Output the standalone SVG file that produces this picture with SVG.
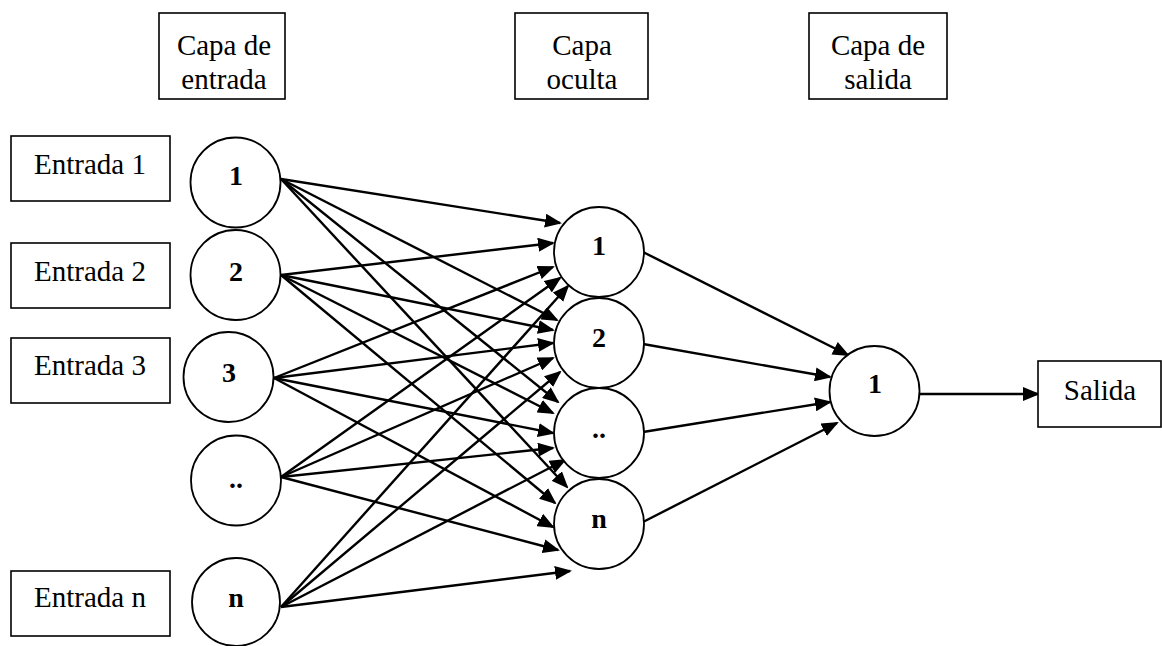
<svg xmlns="http://www.w3.org/2000/svg" width="1162" height="646" viewBox="0 0 1162 646">
  <defs>
    <marker id="arrow" markerUnits="userSpaceOnUse" markerWidth="17" markerHeight="14" refX="15" refY="7" orient="auto">
      <path d="M0,0 L17,7 L0,14 Z" fill="#000"/>
    </marker>
    <style>
      .box { fill: #fff; stroke: #000; stroke-width: 1.6; }
      .node { fill: #fff; stroke: #000; stroke-width: 1.8; }
      .lbl { font-family: "Liberation Serif", "Times New Roman", serif; font-size: 29px; fill: #000; text-anchor: middle; }
      .num { font-family: "Liberation Serif", "Times New Roman", serif; font-size: 28px; font-weight: bold; fill: #000; text-anchor: middle; }
      .edge { stroke: #000; stroke-width: 2.4; fill: none; marker-end: url(#arrow); }
    </style>
  </defs>
  <rect width="1162" height="646" fill="#fff"/>

  <!-- layer headers -->
  <g id="header-input">
    <rect class="box" x="159" y="13" width="126" height="86"/>
    <text class="lbl" x="224" y="55">Capa de</text>
    <text class="lbl" x="224" y="89">entrada</text>
  </g>
  <g id="header-hidden">
    <rect class="box" x="515" y="13" width="133" height="86"/>
    <text class="lbl" x="582" y="55">Capa</text>
    <text class="lbl" x="582" y="89">oculta</text>
  </g>
  <g id="header-output">
    <rect class="box" x="809" y="13" width="138" height="86"/>
    <text class="lbl" x="878" y="55">Capa de</text>
    <text class="lbl" x="878" y="89">salida</text>
  </g>

  <!-- connectors -->
  <g id="connectors">
    <!-- input 1 -->
    <line class="edge" x1="281" y1="179" x2="560" y2="223"/>
    <line class="edge" x1="281" y1="179" x2="557" y2="320"/>
    <line class="edge" x1="281" y1="179" x2="558" y2="402"/>
    <line class="edge" x1="281" y1="179" x2="567" y2="487"/>
    <!-- input 2 -->
    <line class="edge" x1="281" y1="275" x2="553" y2="243"/>
    <line class="edge" x1="281" y1="275" x2="553" y2="330"/>
    <line class="edge" x1="281" y1="275" x2="553" y2="413"/>
    <line class="edge" x1="281" y1="275" x2="555" y2="503"/>
    <!-- input 3 -->
    <line class="edge" x1="274" y1="378" x2="553" y2="267"/>
    <line class="edge" x1="274" y1="378" x2="553" y2="343"/>
    <line class="edge" x1="274" y1="378" x2="553" y2="433"/>
    <line class="edge" x1="274" y1="378" x2="553" y2="527"/>
    <!-- input .. -->
    <line class="edge" x1="281" y1="477" x2="560" y2="278"/>
    <line class="edge" x1="281" y1="477" x2="553" y2="358"/>
    <line class="edge" x1="281" y1="477" x2="553" y2="448"/>
    <line class="edge" x1="281" y1="477" x2="558" y2="550"/>
    <!-- input n -->
    <line class="edge" x1="281" y1="607" x2="568" y2="286"/>
    <line class="edge" x1="281" y1="607" x2="560" y2="372"/>
    <line class="edge" x1="281" y1="607" x2="565" y2="460"/>
    <line class="edge" x1="281" y1="607" x2="570" y2="571"/>
    <!-- hidden to output -->
    <line class="edge" x1="643" y1="252" x2="848" y2="355"/>
    <line class="edge" x1="643" y1="344" x2="830" y2="377"/>
    <line class="edge" x1="643" y1="432" x2="830" y2="402"/>
    <line class="edge" x1="643" y1="522" x2="837" y2="423"/>
    <!-- output to result -->
    <line class="edge" x1="919" y1="394" x2="1038" y2="394"/>
  </g>

  <!-- input labels -->
  <g id="entrada-1">
    <rect class="box" x="11" y="136" width="159" height="65"/>
    <text class="lbl" x="90" y="174">Entrada 1</text>
  </g>
  <g id="entrada-2">
    <rect class="box" x="11" y="243" width="159" height="65"/>
    <text class="lbl" x="90" y="281">Entrada 2</text>
  </g>
  <g id="entrada-3">
    <rect class="box" x="11" y="338" width="159" height="65"/>
    <text class="lbl" x="90" y="375">Entrada 3</text>
  </g>
  <g id="entrada-n">
    <rect class="box" x="11" y="571" width="159" height="65"/>
    <text class="lbl" x="90" y="607">Entrada n</text>
  </g>

  <!-- input layer -->
  <g id="in-1">
    <circle class="node" cx="235.5" cy="182.5" r="45"/>
    <text class="num" x="236" y="185">1</text>
  </g>
  <g id="in-2">
    <circle class="node" cx="235.5" cy="275" r="45"/>
    <text class="num" x="236" y="281">2</text>
  </g>
  <g id="in-3">
    <circle class="node" cx="228.5" cy="377" r="45"/>
    <text class="num" x="229" y="382">3</text>
  </g>
  <g id="in-dots">
    <circle class="node" cx="236" cy="480.5" r="45"/>
    <text class="num" x="236" y="488">..</text>
  </g>
  <g id="in-n">
    <circle class="node" cx="236" cy="602" r="44"/>
    <text class="num" x="236" y="607">n</text>
  </g>

  <!-- hidden layer -->
  <g id="hid-1">
    <circle class="node" cx="599" cy="252" r="45"/>
    <text class="num" x="599" y="255">1</text>
  </g>
  <g id="hid-2">
    <circle class="node" cx="599" cy="343" r="45"/>
    <text class="num" x="599" y="347">2</text>
  </g>
  <g id="hid-dots">
    <circle class="node" cx="599" cy="433" r="45"/>
    <text class="num" x="599" y="438">..</text>
  </g>
  <g id="hid-n">
    <circle class="node" cx="599" cy="524" r="45"/>
    <text class="num" x="599" y="528">n</text>
  </g>

  <!-- output layer -->
  <g id="out-1">
    <circle class="node" cx="874.5" cy="391" r="45"/>
    <text class="num" x="875" y="393">1</text>
  </g>
  <g id="salida">
    <rect class="box" x="1038" y="361" width="123" height="66"/>
    <text class="lbl" x="1100" y="400">Salida</text>
  </g>
</svg>
